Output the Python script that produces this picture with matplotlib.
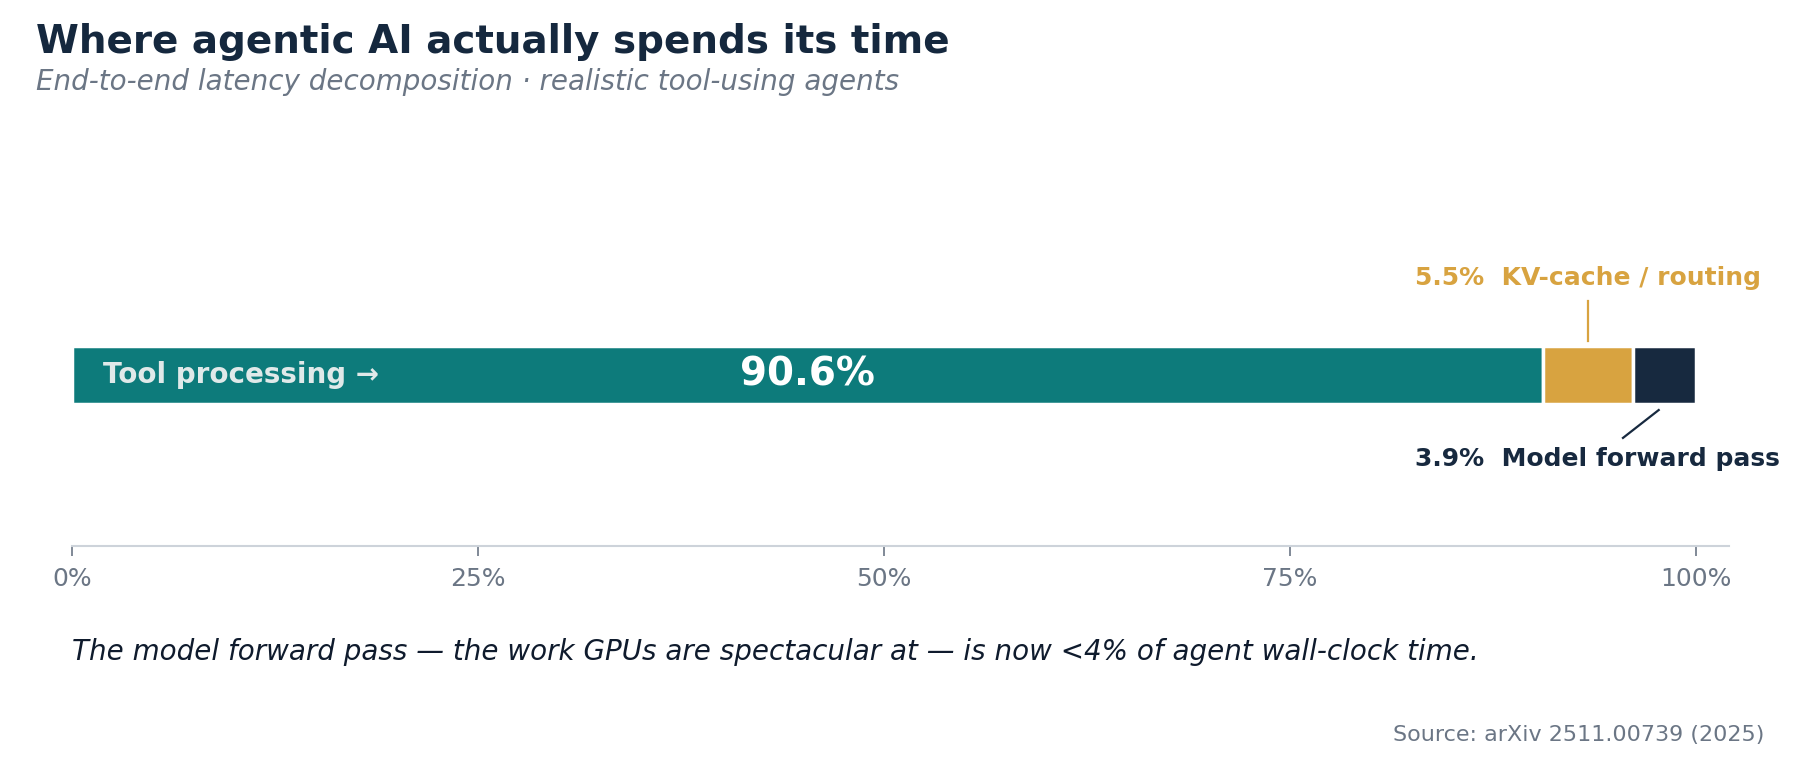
import matplotlib
matplotlib.use("Agg")
import matplotlib.pyplot as plt

# Данные
segments = ["Tool processing", "KV-cache / routing", "Model forward pass"]
shares = [90.6, 5.5, 3.9]
colors = ["#0d7b7b", "#d8a340", "#17293f"]
tick_vals = [0, 25, 50, 75, 100]
tick_labels = ["0%", "25%", "50%", "75%", "100%"]

NAVY = "#15283e"
GRAY = "#6b7685"

plt.rcParams['font.family'] = ['DejaVu Sans']

fig = plt.figure(figsize=(18, 7.6), dpi=100)
ax = fig.add_axes([0.04, 0.2816, 0.9203, 0.45])

# Сегменты полосы
left = 0
for name, val, col in zip(segments, shares, colors):
    ax.barh(0, val, left=left, height=0.335, color=col, edgecolor="white", linewidth=2.5)
    left += val

ax.set_xlim(0, 102)
ax.set_ylim(-1, 1)

# Подписи внутри полосы
ax.text(1.9, 0, "Tool processing →", ha="left", va="center", fontsize=20,
        fontweight="bold", color="#e0e9e9")
ax.text(shares[0] / 2, 0, f"{shares[0]}%", ha="center", va="center", fontsize=28,
        fontweight="bold", color="white")

# Аннотации малых сегментов
kv_x = shares[0] + shares[1] / 2
ax.plot([kv_x, kv_x], [0.20, 0.43], color=colors[1], lw=1.6, clip_on=False)
ax.text(82.7, 0.567, f"{shares[1]}%  {segments[1]}", ha="left", va="center",
        fontsize=18, fontweight="bold", color=colors[1])

ax.plot([97.7, 95.5], [-0.205, -0.368], color=colors[2], lw=1.6, clip_on=False)
ax.text(82.7, -0.49, f"{shares[2]}%  {segments[2]}", ha="left", va="center",
        fontsize=18, fontweight="bold", color=colors[2])

# Оси
for s in ["top", "right", "left"]:
    ax.spines[s].set_visible(False)
ax.spines["bottom"].set_color("#cdd3da")
ax.spines["bottom"].set_linewidth(1.5)
ax.set_yticks([])
ax.set_xticks(tick_vals)
ax.set_xticklabels(tick_labels)
ax.tick_params(axis="x", colors=GRAY, labelsize=18, length=7, width=1.2, pad=8)

# Заголовки и подписи
fig.text(0.02, 0.945, "Where agentic AI actually spends its time", ha="left", va="center",
         fontsize=28, fontweight="bold", color=NAVY)
fig.text(0.02, 0.892, "End-to-end latency decomposition · realistic tool-using agents",
         ha="left", va="center", fontsize=20, style="italic", color=GRAY)
fig.text(0.04, 0.142, "The model forward pass — the work GPUs are spectacular at — "
         "is now <4% of agent wall-clock time.", ha="left", va="center",
         fontsize=20, style="italic", color="#0f1b2d")
fig.text(0.98, 0.033, "Source: arXiv 2511.00739 (2025)", ha="right", va="center",
         fontsize=16, color=GRAY)

fig.savefig("out.png", dpi=100, facecolor="white")
